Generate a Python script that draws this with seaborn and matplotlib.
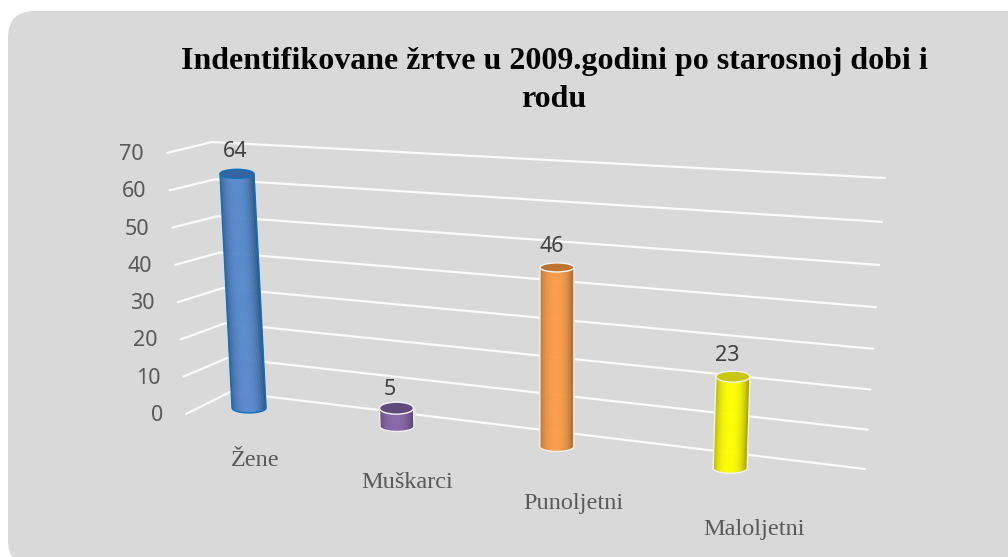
import numpy as np
import pandas as pd
import matplotlib
matplotlib.use("Agg")
import matplotlib.pyplot as plt
from matplotlib.patches import FancyBboxPatch, Ellipse, Polygon
from matplotlib.colors import to_rgb
import seaborn as sns

# ---- data ----
categories = ["Žene", "Muškarci", "Punoljetni", "Maloljetni"]
values = [64, 5, 46, 23]
y_ticks = [0, 10, 20, 30, 40, 50, 60, 70]
title = "Indentifikovane žrtve u 2009.godini po starosnoj dobi i\nrodu"

# ---- styles ----
light = ["#5689cc", "#8565a8", "#fb9c4a", "#ffff00"]
dark = ["#2f5688", "#56426f", "#a9682c", "#a4a400"]
cap = ["#35659f", "#604a7b", "#bd7433", "#c8c800"]
edge = ["#0f70c0", "#f4f4f4", "#f4f4f4", "#f4f4f4"]
GREY = "#d9d9d9"
TXT = "#595959"

# ---- perspective calibration: (category index, value) -> pixel ----
def fit_h(src, dst):
    A, b = [], []
    for (u, v), (x, y) in zip(src, dst):
        A.append([u, v, 1, 0, 0, 0, -u * x, -v * x]); b.append(x)
        A.append([0, 0, 0, u, v, 1, -u * y, -v * y]); b.append(y)
    h = np.linalg.lstsq(np.array(A, float), np.array(b, float), rcond=None)[0]
    return np.append(h, 1).reshape(3, 3)

def proj(H, u, v):
    p = H @ np.array([u, v, 1.0])
    return p[0] / p[2], p[1] / p[2]

wall_H = fit_h([(0, 0), (1, 0), (0, 70), (1, 70)],
               [(230, 392), (865, 469), (212, 142), (885, 178)])
bar_H = fit_h([(0, 0), (0, 64), (1, 0), (2, 0), (2, 46), (3, 0), (3, 23)],
              [(249, 408), (237, 174), (397, 426), (557, 447), (557, 267), (730, 468), (733, 377)])

sns.set_theme(style="white")
fig = plt.figure(figsize=(10.08, 5.57), dpi=100, facecolor="white")
ax = fig.add_axes([0, 0, 1, 1])
ax.set_axis_off()

ax.add_patch(FancyBboxPatch((8, 11), 1040, 556, boxstyle="round,pad=0,rounding_size=27",
                            fc=GREY, ec="none", zorder=0))

# gridlines: side wall + back wall
rows = []
for t in y_ticks:
    f = t / 70
    tip = (186 + (167 - 186) * f, 414 + (153 - 414) * f)
    rows.append({"line": t, "x": tip[0], "y": tip[1], "o": 0})
    x, y = proj(wall_H, 0, t)
    rows.append({"line": t, "x": x, "y": y, "o": 1})
    x, y = proj(wall_H, 1, t)
    rows.append({"line": t, "x": x, "y": y, "o": 2})
    ax.text(tip[0] - 23, tip[1] + 1.5, str(t), ha="right", va="center", color=TXT,
            fontsize=15.5, family="Noto Sans")
sns.lineplot(data=pd.DataFrame(rows), x="x", y="y", units="line", estimator=None, sort=False,
             color="#fbfbfb", lw=1.6, ax=ax, legend=False, zorder=1)

# cylinders
RX = 17.0
RY_TOP = [4.5, 6, 4.5, 5.5]
RY_BOT = [5, 5, 5, 5]
LABEL_DX = [-2, -7, -5, -6]
LABEL_DY = [-22, -19, -21, -21]
LABEL_XY = [(255, 460), (407, 482), (573, 504), (754, 529)]
N = 48
for i, val in enumerate(values):
    bx, by = proj(bar_H, i, 0)
    tx, ty = proj(bar_H, i, val)
    c0, c1 = np.array(to_rgb(dark[i])), np.array(to_rgb(light[i]))
    ts = np.linspace(-1, 1, N + 1)
    for a, b in zip(ts[:-1], ts[1:]):
        m = (a + b) / 2
        w = 1 - abs(m + 0.05) ** 2.6
        col = c0 + (c1 - c0) * w
        top_a, top_b = np.sqrt(1 - a * a), np.sqrt(1 - b * b)
        ax.add_patch(Polygon([(tx + RX * a, ty + RY_TOP[i] * top_a),
                              (tx + RX * b, ty + RY_TOP[i] * top_b),
                              (bx + RX * b, by + RY_BOT[i] * top_b),
                              (bx + RX * a, by + RY_BOT[i] * top_a)],
                             closed=True, fc=col, ec=col, lw=0.3, zorder=3))
    # outline
    th = np.linspace(np.pi, 0, 60)
    ox = np.r_[tx - RX, bx + RX * np.cos(th), tx + RX]
    oy = np.r_[ty, by + RY_BOT[i] * np.sin(th), ty]
    ax.plot(ox, oy, color=edge[i], lw=1.0, zorder=4, solid_capstyle="round")
    ax.add_patch(Ellipse((tx, ty), 2 * RX, 2 * RY_TOP[i], fc=cap[i], ec=edge[i], lw=1.0, zorder=5))
    ax.text(tx + LABEL_DX[i], ty + LABEL_DY[i], str(val), ha="center", va="center", color="#404040",
            fontsize=15.5, family="Noto Sans", zorder=6)
    ax.text(*LABEL_XY[i], categories[i], ha="center", va="center", color=TXT,
            fontsize=17.5, family="Liberation Serif", zorder=6)

ax.text(554, 80.5, title, ha="center", va="center", fontsize=23, fontweight="bold",
        family="Liberation Serif", color="black", linespacing=1.375, zorder=6)

ax.set_xlim(0, 1008)
ax.set_ylim(557, 0)
ax.set_axis_off()
fig.savefig("out.png", dpi=100)
